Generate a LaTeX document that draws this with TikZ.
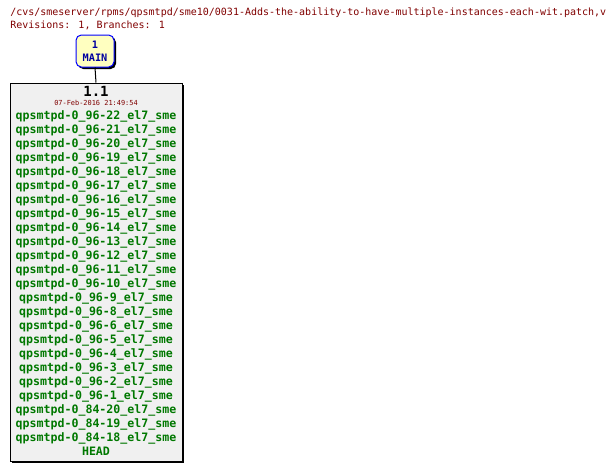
\documentclass[tikz,border=0pt]{standalone}
\usepackage{fontspec}
\usepackage{xcolor}
\usepackage{tikz}
\usetikzlibrary{shadows}
\newfontfamily\cvsmono{DejaVu Sans Mono}
\definecolor{maroon}{HTML}{800000}
\definecolor{taggreen}{HTML}{007800}
\definecolor{branchblue}{HTML}{0000FF}
\definecolor{branchtext}{HTML}{0000A0}
\definecolor{branchbg}{HTML}{FFFFC0}
\definecolor{revbg}{HTML}{F0F0F0}

\begin{document}
\begin{tikzpicture}[x=0.75pt,y=-0.75pt,
  every node/.style={inner sep=0pt},
  hdr/.style={anchor=base west,text=maroon,font=\cvsmono\fontsize{7.5}{9}\selectfont},
  branchbox/.style={draw=branchblue,fill=branchbg,line width=0.75pt,rounded corners=4pt,
    minimum width=28.5pt,minimum height=24pt,align=center,text=branchtext,
    font=\cvsmono\bfseries\fontsize{7.7}{9.75}\selectfont,
    general shadow={fill=black,shadow xshift=1.5pt,shadow yshift=-1.5pt}},
  revbox/.style={draw=black,fill=revbg,line width=0.75pt,minimum width=129pt,minimum height=283.5pt,
    general shadow={fill=black,shadow xshift=1.5pt,shadow yshift=-1.5pt}},
  tagtext/.style={anchor=base,text=taggreen,font=\cvsmono\bfseries\fontsize{8.7}{10}\selectfont}]
  \useasboundingbox (0,0) rectangle (614,471);
  \node[hdr] (title) at (10,15) {/cvs/smeserver/rpms/qpsmtpd/sme10/0031-Adds-the-ability-to-have-multiple-instances-each-wit.patch,v};
  \node[hdr] (counts) at (10,28) {Revisions: 1, Branches: 1};
  % branch and its revision
  \node[branchbox] (main) at (95,51) {1\\MAIN};
  \node[revbox] (rev) at (96,272) {};
  \draw[line width=0.75pt] (main.south) -- (rev.north);
  \node[anchor=base,font=\cvsmono\bfseries\fontsize{10.5}{12}\selectfont] (revnum) at (96,96) {1.1};
  \node[anchor=base,text=maroon,font=\cvsmono\fontsize{5.2}{6}\selectfont] (revdate) at (96,105) {07-Feb-2016 21:49:54};
  \foreach \v/\n [count=\i] in {96/22,96/21,96/20,96/19,96/18,96/17,96/16,96/15,96/14,96/13,96/12,
      96/11,96/10,96/9,96/8,96/6,96/5,96/4,96/3,96/2,96/1,84/20,84/19,84/18} {
    \node[tagtext] (tag\i) at (96,105+14*\i) {qpsmtpd-0\_\v-\n\_el7\_sme};
  }
  \node[tagtext] (head) at (96,455) {HEAD};
\end{tikzpicture}
\end{document}
